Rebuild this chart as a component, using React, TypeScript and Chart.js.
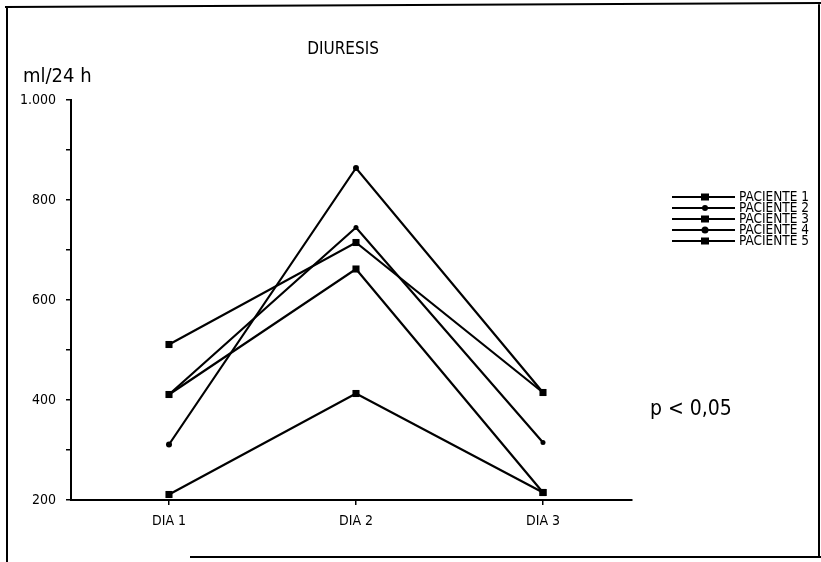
import React, { useEffect, useRef } from 'react';
import { Chart, registerables } from 'chart.js';

Chart.register(...registerables);

// ---- data ----
const days = ['DIA 1', 'DIA 2', 'DIA 3'];
const dayPositions = [1, 2, 3];
const patientNames = ['PACIENTE 1', 'PACIENTE 2', 'PACIENTE 3', 'PACIENTE 4', 'PACIENTE 5'];
const paciente1 = [511, 715, 415];
const paciente2 = [411, 745, 315];
const paciente3 = [411, 662, 215];
const paciente4 = [311, 864, 415];
const paciente5 = [211, 413, 215];
const yTicks = [200, 300, 400, 500, 600, 700, 800, 900, 1000];
const yTickLabels = ['200', '', '400', '', '600', '', '800', '', '1.000'];
const titleText = 'DIURESIS';
const yUnitText = 'ml/24 h';
const pValueText = 'p < 0,05';

const seriesValues = [paciente1, paciente2, paciente3, paciente4, paciente5];
const pointStyles = ['rect', 'circle', 'rect', 'circle', 'rect'];
const pointRadii = [5, 2.5, 5, 3, 5];

const FONT = '"Liberation Sans Narrow", "DejaVu Sans Condensed", "Liberation Sans", sans-serif';

const annotations = {
  id: 'annotations',
  afterDraw(chart: any) {
    const ctx = chart.ctx as CanvasRenderingContext2D;
    ctx.save();
    ctx.fillStyle = '#000';
    ctx.strokeStyle = '#000';
    // frame
    ctx.lineWidth = 2;
    ctx.beginPath();
    ctx.moveTo(5, 7);
    ctx.lineTo(821, 3);
    ctx.moveTo(7, 6);
    ctx.lineTo(7, 562);
    ctx.moveTo(819, 2);
    ctx.lineTo(819, 558);
    ctx.moveTo(190, 557);
    ctx.lineTo(821, 557);
    ctx.stroke();

    // title
    ctx.textBaseline = 'middle';
    ctx.textAlign = 'center';
    ctx.font = `17px ${FONT}`;
    ctx.fillText(titleText, 343, 50);
    ctx.textAlign = 'left';
    ctx.font = `20px ${FONT}`;
    ctx.fillText(yUnitText, 23, 77);
    ctx.font = `21px ${FONT}`;
    ctx.fillText(pValueText, 650, 410);

    // legend
    ctx.font = `13.5px ${FONT}`;
    patientNames.forEach((name, i) => {
      const y = 197 + i * 11;
      ctx.lineWidth = 2;
      ctx.beginPath();
      ctx.moveTo(672, y);
      ctx.lineTo(735, y);
      ctx.stroke();
      if (pointStyles[i] === 'rect') {
        ctx.fillRect(701, y - 3.5, 8, 7);
      } else {
        ctx.beginPath();
        ctx.arc(705, y, pointRadii[i] + 0.5, 0, Math.PI * 2);
        ctx.fill();
      }
      ctx.fillText(name, 739, y + 0.5);
    });
    ctx.restore();
  },
};

export default function App() {
  const ref = useRef<HTMLCanvasElement>(null);
  useEffect(() => {
    if (!ref.current) return;
    const chart = new Chart(ref.current, {
      type: 'line',
      data: {
        datasets: seriesValues.map((vals, i) => ({
          label: patientNames[i],
          data: vals.map((v, j) => ({ x: dayPositions[j], y: v })),
          borderColor: '#000',
          backgroundColor: '#000',
          borderWidth: 2.2,
          pointStyle: pointStyles[i] as any,
          pointRadius: pointRadii[i],
          pointBackgroundColor: '#000',
          pointBorderWidth: 0,
          tension: 0,
        })),
      },
      options: {
        responsive: false,
        animation: false,
        events: [],
        layout: { padding: { left: 0, top: 100, right: 189, bottom: 22 } },
        plugins: { legend: { display: false }, tooltip: { enabled: false }, title: { display: false } },
        scales: {
          x: {
            type: 'linear',
            min: 0.476,
            max: 3.476,
            afterBuildTicks: (s: any) => {
              s.ticks = dayPositions.map((v) => ({ value: v }));
            },
            afterFit: (s: any) => {
              s.height = 40;
            },
            ticks: {
              color: '#000',
              font: { family: FONT, size: 14 },
              padding: 8,
              maxRotation: 0,
              callback: (v: any) => days[dayPositions.indexOf(Number(v))] ?? '',
            },
            grid: { drawOnChartArea: false, drawTicks: true, tickLength: 5, color: '#000', lineWidth: 1.5 },
            border: { color: '#000', width: 2 },
          },
          y: {
            type: 'linear',
            min: 200,
            max: 1000,
            afterBuildTicks: (s: any) => {
              s.ticks = yTicks.map((v) => ({ value: v }));
            },
            afterFit: (s: any) => {
              s.width = 71;
            },
            ticks: {
              color: '#000',
              font: { family: FONT, size: 14 },
              padding: 10,
              callback: (v: any) => yTickLabels[yTicks.indexOf(Number(v))] ?? '',
            },
            grid: { drawOnChartArea: false, drawTicks: true, tickLength: 5, color: '#000', lineWidth: 1.5 },
            border: { color: '#000', width: 2 },
          },
        },
      },
      plugins: [annotations],
    });
    return () => chart.destroy();
  }, []);
  return (
    <div style={{ position: 'fixed', left: 0, top: 0, width: 821, height: 562, background: '#fff' }}>
      <canvas ref={ref} width={821} height={562} style={{ display: 'block' }} />
    </div>
  );
}
